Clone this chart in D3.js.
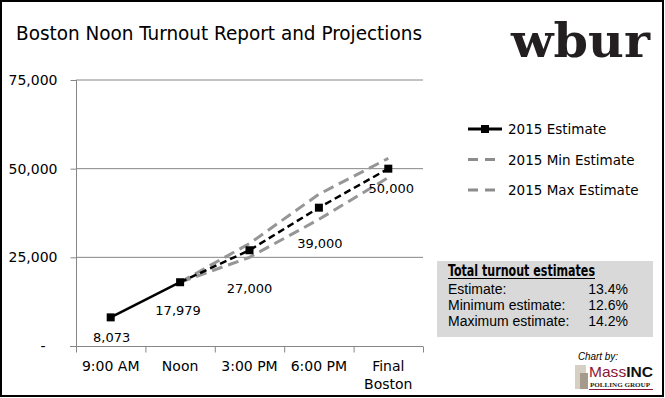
<!DOCTYPE html>
<html><head><meta charset="utf-8">
<script src="https://cdn.jsdelivr.net/npm/d3@7"></script>
<style>body{margin:0;background:#fff}svg{display:block}</style>
</head><body>
<script>
const categories = ["9:00 AM", "Noon", "3:00 PM", "6:00 PM", "Final\nBoston"];
const estimate = [8073, 17979, 27000, 39000, 50000];
const minEstimate = [null, 17979, 25000, 35700, 47500];
const maxEstimate = [null, 17979, 28900, 42800, 52900];
const yTicks = [0, 25000, 50000, 75000];
const legendLabels = ["2015 Estimate", "2015 Min Estimate", "2015 Max Estimate"];
const boxTitle = "Total turnout estimates";
const boxRows = [["Estimate:", "13.4%"], ["Minimum estimate:", "12.6%"], ["Maximum estimate:", "14.2%"]];

const W = 665, H = 398;
const svg = d3.select("body").append("svg").attr("width", W).attr("height", H);
svg.append("rect").attr("x", 0).attr("y", 0).attr("width", W).attr("height", H).attr("fill", "#fff");

const x = d3.scaleBand().domain(categories).range([76, 423]);
const y = d3.scaleLinear().domain([0, 75000]).range([346, 80]);
const cx = (i) => x(categories[i]) + x.bandwidth() / 2;

// title
svg.append("text").attr("x", 16).attr("y", 40).text("Boston Noon Turnout Report and Projections")
  .attr("font-family", "'Liberation Sans Narrow','DejaVu Sans Condensed',sans-serif")
  .attr("font-size", 20).attr("fill", "#000")
  .attr("textLength", 406).attr("lengthAdjust", "spacingAndGlyphs");

// wbur logo
svg.append("text").attr("x", 511).attr("y", 57).text("wbur")
  .attr("font-family", "'DejaVu Serif',serif").attr("font-weight", "bold")
  .attr("font-size", 47).attr("fill", "#231f20")
  .attr("textLength", 139).attr("lengthAdjust", "spacingAndGlyphs");

// gridlines
const grid = svg.append("g");
yTicks.filter(d => d > 0).forEach(d => {
  grid.append("line").attr("x1", 76).attr("x2", 423).attr("y1", y(d)).attr("y2", y(d))
    .attr("stroke", "#868686").attr("stroke-width", 1);
});

// y axis
const yAxis = d3.axisLeft(y).tickValues(yTicks).tickSize(6).tickPadding(13)
  .tickFormat(d => d === 0 ? "-" : d3.format(",")(d));
const gy = svg.append("g").attr("transform", "translate(76.5,0)").call(yAxis);
gy.select(".domain").attr("stroke", "#868686").attr("d", "M0," + y(75000) + "V" + y(0));
gy.selectAll(".tick line").attr("stroke", "#868686");
gy.selectAll(".tick text").attr("font-family", "'DejaVu Sans',sans-serif").attr("font-size", 14)
  .attr("fill", "#000").attr("dx", d => d === 0 ? -12 : 0);

// x axis
const gx = svg.append("g").attr("transform", "translate(0,346.5)");
gx.append("line").attr("x1", 70).attr("x2", 423).attr("y1", 0).attr("y2", 0).attr("stroke", "#868686");
categories.forEach((c, i) => {
  gx.append("line").attr("x1", x(c) + 0.5).attr("x2", x(c) + 0.5).attr("y1", 0).attr("y2", 6).attr("stroke", "#868686");
});
gx.append("line").attr("x1", 423.5).attr("x2", 423.5).attr("y1", 0).attr("y2", 6).attr("stroke", "#868686");
categories.forEach((c, i) => {
  const lines = c.split("\n");
  const t = gx.append("text").attr("x", cx(i)).attr("y", 24).attr("text-anchor", "middle")
    .attr("font-family", "'DejaVu Sans',sans-serif").attr("font-size", 14).attr("fill", "#000");
  lines.forEach((l, k) => t.append("tspan").attr("x", cx(i)).attr("dy", k === 0 ? 0 : 18).text(l));
});

// lines
const lineGen = d3.line().defined(d => d.v != null).x(d => cx(d.i)).y(d => y(d.v));
const toPts = arr => arr.map((v, i) => ({ i, v }));
svg.append("path").attr("d", lineGen(toPts(minEstimate))).attr("fill", "none")
  .attr("stroke", "#969696").attr("stroke-width", 3).attr("stroke-dasharray", "11,6");
svg.append("path").attr("d", lineGen(toPts(maxEstimate))).attr("fill", "none")
  .attr("stroke", "#969696").attr("stroke-width", 3).attr("stroke-dasharray", "11,6");
const est = toPts(estimate);
svg.append("path").attr("d", lineGen(est.slice(0, 2))).attr("fill", "none")
  .attr("stroke", "#000").attr("stroke-width", 2.5);
svg.append("path").attr("d", lineGen(est.slice(1))).attr("fill", "none")
  .attr("stroke", "#000").attr("stroke-width", 2.5).attr("stroke-dasharray", "7,4");
svg.selectAll(".mk").data(est).enter().append("rect")
  .attr("x", d => cx(d.i) - 4).attr("y", d => y(d.v) - 4).attr("width", 8).attr("height", 8).attr("fill", "#000");

// data labels
const labelOff = [[1, 25], [-2, 33], [0, 43], [1, 40], [3, 24]];
svg.selectAll(".dl").data(est).enter().append("text")
  .attr("x", d => cx(d.i) + labelOff[d.i][0]).attr("y", d => y(d.v) + labelOff[d.i][1])
  .attr("text-anchor", "middle").attr("font-family", "'DejaVu Sans',sans-serif").attr("font-size", 13)
  .attr("fill", "#000").text(d => d3.format(",")(d.v));

// legend
const lg = svg.append("g");
legendLabels.forEach((l, k) => {
  const ly = 129 + k * 30.5;
  if (k === 0) {
    lg.append("line").attr("x1", 468).attr("x2", 502).attr("y1", ly).attr("y2", ly).attr("stroke", "#000").attr("stroke-width", 3);
    lg.append("rect").attr("x", 481).attr("y", ly - 4).attr("width", 8).attr("height", 8).attr("fill", "#000");
  } else {
    lg.append("line").attr("x1", 468).attr("x2", 502).attr("y1", ly).attr("y2", ly).attr("stroke", "#8c8c8c")
      .attr("stroke-width", 3).attr("stroke-dasharray", "10,7");
  }
  lg.append("text").attr("x", 508).attr("y", ly + 5).text(l).attr("font-family", "'DejaVu Sans',sans-serif")
    .attr("font-size", 13.5).attr("fill", "#000");
});

// box
svg.append("rect").attr("x", 437).attr("y", 261).attr("width", 216).attr("height", 76).attr("fill", "#d9d9d9");
svg.append("text").attr("x", 448).attr("y", 276).text(boxTitle)
  .attr("font-family", "'Liberation Sans Narrow','DejaVu Sans Condensed',sans-serif").attr("font-weight", "bold")
  .attr("font-size", 15).attr("fill", "#000").attr("textLength", 147).attr("lengthAdjust", "spacingAndGlyphs");
svg.append("line").attr("x1", 448).attr("x2", 595).attr("y1", 278.5).attr("y2", 278.5).attr("stroke", "#000").attr("stroke-width", 1);
boxRows.forEach((r, k) => {
  const by = 294 + k * 16;
  svg.append("text").attr("x", 448).attr("y", by).text(r[0]).attr("font-family", "'Liberation Sans',Arial,sans-serif")
    .attr("font-size", 14).attr("fill", "#000");
  svg.append("text").attr("x", 628).attr("y", by).attr("text-anchor", "end").text(r[1])
    .attr("font-family", "'Liberation Sans',Arial,sans-serif").attr("font-size", 14).attr("fill", "#000");
});

// chart by logo
svg.append("text").attr("x", 578).attr("y", 360).text("Chart by:").attr("font-family", "'Liberation Sans Narrow','Liberation Sans',sans-serif")
  .attr("font-style", "italic").attr("font-size", 10).attr("fill", "#000").attr("textLength", 40).attr("lengthAdjust", "spacingAndGlyphs");
svg.append("rect").attr("x", 575).attr("y", 365).attr("width", 11).attr("height", 24).attr("fill", "#d6cfc4");
svg.append("rect").attr("x", 580).attr("y", 373).attr("width", 8).attr("height", 16).attr("fill", "#a59a8c");
const mt = svg.append("text").attr("x", 589).attr("y", 377).attr("font-family", "'Liberation Sans',sans-serif")
  .attr("font-size", 15).attr("textLength", 64).attr("lengthAdjust", "spacingAndGlyphs");
mt.append("tspan").text("Mass").attr("fill", "#8a1538");
mt.append("tspan").text("INC").attr("font-weight", "bold").attr("fill", "#111");
svg.append("text").attr("x", 590).attr("y", 387).text("POLLING GROUP").attr("font-family", "'Liberation Serif',serif")
  .attr("font-weight", "bold").attr("font-size", 6).attr("fill", "#222").attr("textLength", 60).attr("lengthAdjust", "spacingAndGlyphs");
svg.append("line").attr("x1", 589).attr("x2", 653).attr("y1", 389.5).attr("y2", 389.5).attr("stroke", "#8a1538").attr("stroke-width", 1.2);

// border
svg.append("rect").attr("x", 1).attr("y", 1).attr("width", W - 3).attr("height", H - 3)
  .attr("fill", "none").attr("stroke", "#000").attr("stroke-width", 2);
</script>
</body></html>
